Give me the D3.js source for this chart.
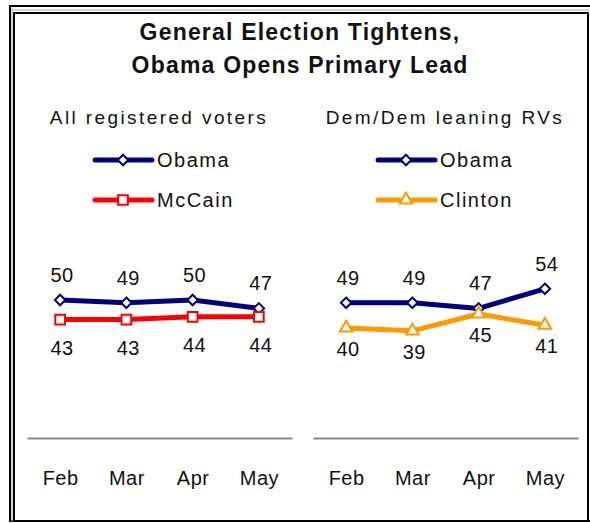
<!DOCTYPE html>
<html>
<head>
<meta charset="utf-8">
<script src="https://cdn.jsdelivr.net/npm/d3@7"></script>
<style>
  html, body { margin: 0; padding: 0; background: #fff; }
  svg { display: block; }
  text { font-family: "Liberation Sans", Arial, sans-serif; fill: #111; }
</style>
</head>
<body>
<svg id="chart" width="590" height="523"></svg>
<script>
// ---- data ----
const months = ["Feb", "Mar", "Apr", "May"];
const titleLines = ["General Election Tightens,", "Obama Opens Primary Lead"];
const leftTitle = "All registered voters";
const rightTitle = "Dem/Dem leaning RVs";
const obamaAll = [50, 49, 50, 47];
const mccainAll = [43, 43, 44, 44];
const obamaDem = [49, 49, 47, 54];
const clintonDem = [40, 39, 45, 41];

const svg = d3.select("#chart");

// frame (double border)
svg.append("rect").attr("x", 10).attr("y", 6).attr("width", 600).attr("height", 515)
  .attr("fill", "none").attr("stroke", "#000").attr("stroke-width", 2);
svg.append("rect").attr("x", 14).attr("y", 13).attr("width", 574).attr("height", 508)
  .attr("fill", "none").attr("stroke", "#000").attr("stroke-width", 2);
svg.append("line").attr("x1", 12).attr("x2", 12).attr("y1", 8).attr("y2", 523)
  .attr("stroke", "#aaa").attr("stroke-width", 1);
svg.append("line").attr("x1", 12).attr("x2", 590).attr("y1", 10).attr("y2", 10)
  .attr("stroke", "#aaa").attr("stroke-width", 1);

// title
svg.append("text").attr("x", 300).attr("text-anchor", "middle")
  .style("font-weight", "bold").style("font-size", "23px").style("letter-spacing", "1.2px")
  .selectAll("tspan").data(titleLines).join("tspan")
  .attr("x", 300).attr("y", (d, i) => 40 + i * 33).text(d => d);

const y = d3.scaleLinear().domain([0, 100]).range([440, 160]);

const diamond = d3.symbol().type(d3.symbolDiamond2).size(70);
const square = d3.symbol().type(d3.symbolSquare2).size(120);
const triangle = d3.symbol().type(d3.symbolTriangle2).size(110);

function panel(cfg) {
  const g = svg.append("g");
  const x = d3.scalePoint().domain(months).range([cfg.x0, cfg.x1]).padding(0.5);

  g.append("text").attr("x", cfg.titleX).attr("y", 124).attr("text-anchor", "middle")
    .style("font-size", "19px").style("letter-spacing", "2.4px").text(cfg.title);

  // axis
  const axis = d3.axisBottom(x).tickSize(0).tickPadding(33);
  const ag = g.append("g").attr("transform", "translate(0,438)").call(axis);
  ag.select(".domain").attr("stroke", "#888").attr("stroke-width", 2);
  ag.selectAll(".tick text").style("font-size", "20px").style("letter-spacing", "0.5px")
    .attr("fill", "#111").style("font-family", "Liberation Sans, Arial, sans-serif");

  const line = d3.line().x((d, i) => x(months[i])).y(d => y(d));

  cfg.series.forEach(s => {
    g.append("path").datum(s.values).attr("d", line).attr("fill", "none")
      .attr("stroke", s.color).attr("stroke-width", 5).attr("stroke-linejoin", "round");
  });
  cfg.series.forEach(s => {
    g.selectAll(null).data(s.values).join("path")
      .attr("transform", (d, i) => `translate(${x(months[i])},${y(d)})`)
      .attr("d", s.symbol).attr("fill", "#fff").attr("stroke", s.color).attr("stroke-width", 2);
    g.selectAll(null).data(s.values).join("text")
      .attr("x", (d, i) => x(months[i]) + 2).attr("y", d => y(d) + s.labelDy)
      .attr("text-anchor", "middle").style("font-size", "20px").style("letter-spacing", "0.5px")
      .text(d => d);
  });

  // legend
  cfg.series.forEach((s, i) => {
    const ly = 160 + i * 40;
    g.append("line").attr("x1", cfg.legX).attr("x2", cfg.legX + 57).attr("y1", ly).attr("y2", ly)
      .attr("stroke", s.color).attr("stroke-width", 5).attr("stroke-linecap", "round");
    g.append("path").attr("transform", `translate(${cfg.legX + 28},${ly})`)
      .attr("d", s.symbol).attr("fill", "#fff").attr("stroke", s.color).attr("stroke-width", 2);
    g.append("text").attr("x", cfg.legX + 62).attr("y", ly + 7)
      .style("font-size", "20px").style("letter-spacing", "1.5px").text(s.name);
  });
}

panel({
  x0: 27, x1: 292, titleX: 159, legX: 95, title: leftTitle,
  series: [
    { name: "Obama", values: obamaAll, color: "#000080", symbol: diamond(), labelDy: -18 },
    { name: "McCain", values: mccainAll, color: "#ff0000", symbol: square(), labelDy: 35 }
  ]
});
panel({
  x0: 313, x1: 578, titleX: 445, legX: 378, title: rightTitle,
  series: [
    { name: "Obama", values: obamaDem, color: "#000080", symbol: diamond(), labelDy: -18 },
    { name: "Clinton", values: clintonDem, color: "#ff9900", symbol: triangle(), labelDy: 28 }
  ]
});
</script>
</body>
</html>
